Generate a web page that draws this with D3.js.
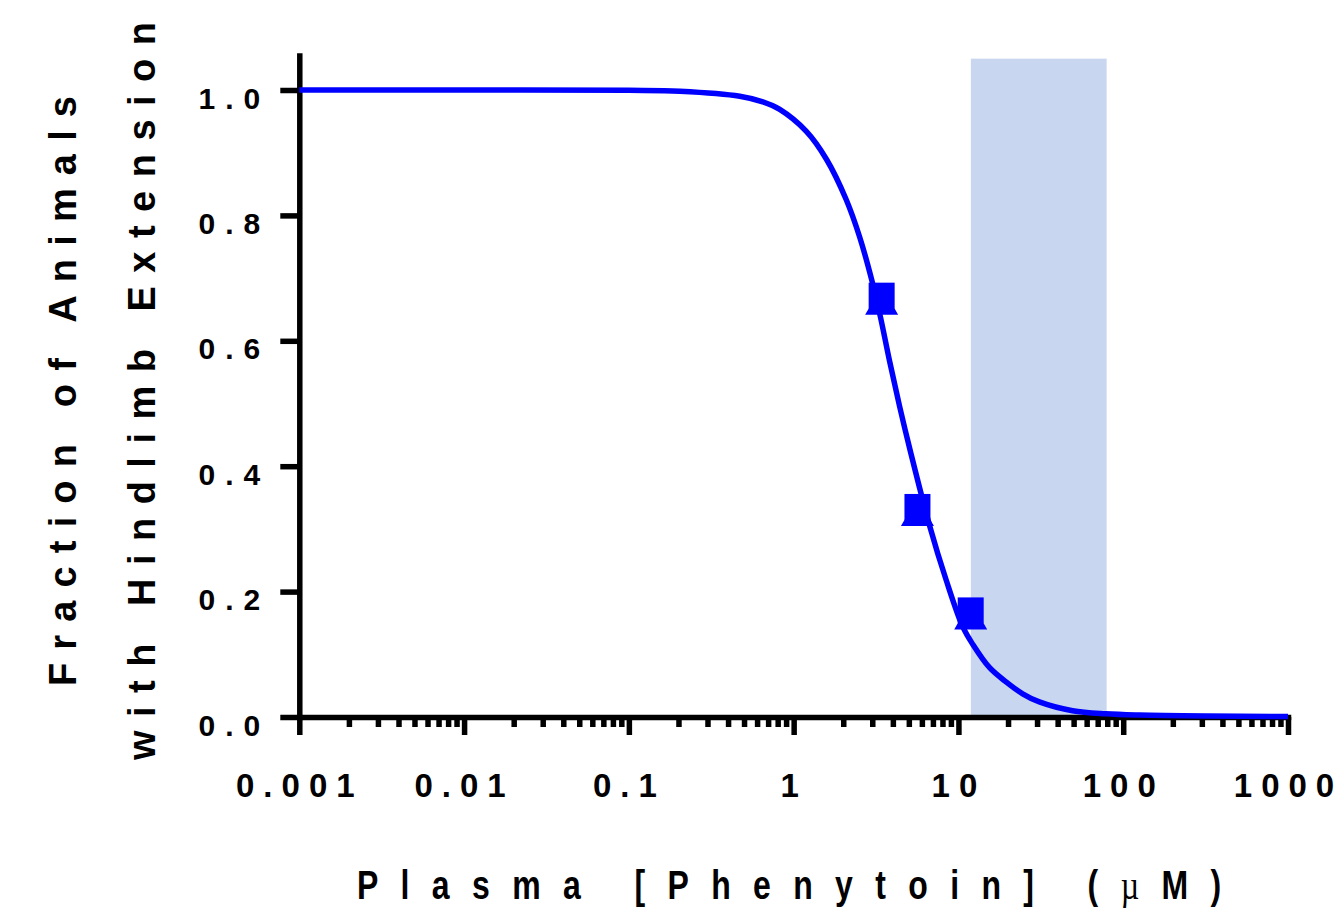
<!DOCTYPE html>
<html>
<head>
<meta charset="utf-8">
<script src="https://cdn.jsdelivr.net/npm/d3@7"></script>
<style>
  body { margin: 0; background: #fff; }
  text { font-family: "Liberation Sans", Arial, sans-serif; font-weight: bold; fill: #000; }
</style>
</head>
<body>
<div id="chart"></div>
<script>
const chartWidth = 1335;
const chartHeight = 909;

// tick values / labels
const xTicks = [0.001, 0.01, 0.1, 1, 10, 100, 1000];
const xTickLabels = ['0.001', '0.01', '0.1', '1', '10', '100', '1000'];
const yTicks = [0, 0.2, 0.4, 0.6, 0.8, 1.0];
const yTickLabels = ['0.0', '0.2', '0.4', '0.6', '0.8', '1.0'];

// fitted curve
const curveX = [0.001, 0.01, 0.1, 0.204, 0.471, 0.65, 0.823, 1.194, 1.578, 2.086, 2.512, 3.012, 3.363,
                3.818, 4.39, 5.118, 6.672, 8.424, 10.62, 12.21, 15.41, 19.45, 24.53, 30.97, 49.28,
                78.6, 125, 317, 1000];
const curveY = [1.0, 1.0, 0.9995, 0.998, 0.990, 0.981, 0.969, 0.934, 0.890, 0.825, 0.766, 0.692, 0.638,
                0.568, 0.496, 0.423, 0.306, 0.2185, 0.144, 0.116, 0.079, 0.056, 0.037, 0.024, 0.010,
                0.005, 0.003, 0.0015, 0.0008];

// measured points (square + triangle at each)
const pointX = [3.42, 5.64, 11.87];
const pointY = [0.672, 0.335, 0.170];

// shaded concentration band
const bandX = [11.9, 79.3];
const bandTop = 1.05;

const xScale = d3.scaleLog()
                  .domain([0.001, 1000])
                  .range([299.3, 1288]);

const yScale = d3.scaleLinear()
                  .domain([0, 1.055])
                  .range([717, 717 - 1.055 * 627]);

let svg = d3.select('#chart')
            .append('svg')
            .attr('width', chartWidth)
            .attr('height', chartHeight);

// band
svg.append('rect')
    .attr('x', xScale(bandX[0]))
    .attr('y', yScale(bandTop))
    .attr('width', xScale(bandX[1]) - xScale(bandX[0]))
    .attr('height', yScale(0) - yScale(bandTop))
    .attr('fill', '#c8d6ef');

// minor x ticks
const minorTicks = xScale.ticks().filter(d => !xTicks.some(t => Math.abs(t - d) / t < 1e-6));

svg.append('g')
    .attr('class', 'x minor')
    .attr('transform', 'translate(0,' + yScale(0) + ')')
    .call(d3.axisBottom(xScale).tickValues(minorTicks).tickSize(10).tickSizeOuter(0).tickFormat(''))
    .call(g => g.select('.domain').remove())
    .call(g => g.selectAll('line').attr('stroke', '#000').attr('stroke-width', 5.5));

// major x axis
svg.append('g')
    .attr('class', 'x axis')
    .attr('transform', 'translate(0,' + yScale(0) + ')')
    .call(d3.axisBottom(xScale).tickValues(xTicks).tickSize(18).tickSizeOuter(0)
            .tickFormat((d, i) => xTickLabels[i]))
    .call(g => g.select('.domain').attr('stroke', '#000').attr('stroke-width', 5.5)
                 .attr('stroke-linecap', 'square'))
    .call(g => g.selectAll('line').attr('stroke', '#000').attr('stroke-width', 5.5))
    .call(g => g.selectAll('text')
                 .attr('y', 80).attr('dy', null)
                 .style('font-size', '33px')
                 .style('letter-spacing', '9px'));

// y axis
svg.append('g')
    .attr('class', 'y axis')
    .attr('transform', 'translate(' + xScale(0.001) + ',0)')
    .call(d3.axisLeft(yScale).tickValues(yTicks).tickSize(19).tickPadding(10).tickSizeOuter(0)
            .tickFormat((d, i) => yTickLabels[i]))
    .call(g => g.select('.domain').attr('stroke', '#000').attr('stroke-width', 5.5)
                 .attr('stroke-linecap', 'square'))
    .call(g => g.selectAll('line').attr('stroke', '#000').attr('stroke-width', 5.5))
    .call(g => g.selectAll('text')
                 .attr('dy', '0.6em')
                 .style('font-size', '30px')
                 .style('letter-spacing', '10px'));

// fitted curve
const curveData = curveX.map((x, i) => ({x: x, y: curveY[i]}));
const line = d3.line()
                .x(d => xScale(d.x))
                .y(d => yScale(d.y))
                .curve(d3.curveCatmullRom.alpha(0.5));

svg.append('path')
    .datum(curveData)
    .attr('fill', 'none')
    .attr('stroke', '#0000ff')
    .attr('stroke-width', 5.5)
    .attr('stroke-linejoin', 'round')
    .attr('d', line);

// points
const points = pointX.map((x, i) => ({x: x, y: pointY[i]}));

svg.selectAll('.sq')
  .data(points)
  .enter().append('path')
    .attr('class', 'sq')
    .attr('transform', d => 'translate(' + xScale(d.x) + ',' + yScale(d.y) + ')')
    .attr('d', d3.symbol().type(d3.symbolSquare).size(26 * 26))
    .attr('fill', '#0000ff');

svg.selectAll('.tri')
  .data(points)
  .enter().append('path')
    .attr('class', 'tri')
    .attr('transform', d => 'translate(' + xScale(d.x) + ',' + (yScale(d.y) + 9.5) + ')')
    .attr('d', d3.symbol().type(d3.symbolTriangle).size(472))
    .attr('fill', '#0000ff');

// axis titles
svg.append('text')
    .attr('transform', 'translate(76,391) rotate(-90)')
    .attr('text-anchor', 'middle')
    .attr('textLength', 590)
    .attr('lengthAdjust', 'spacing')
    .style('font-size', '38px')
    .text('Fraction of Animals');

svg.append('text')
    .attr('transform', 'translate(155,391) rotate(-90)')
    .attr('text-anchor', 'middle')
    .attr('textLength', 738)
    .attr('lengthAdjust', 'spacing')
    .style('font-size', '38px')
    .text('with Hindlimb Extension');

const xTitle = svg.append('text')
    .attr('transform', 'translate(789,899) scale(0.78,1)')
    .attr('text-anchor', 'middle')
    .attr('textLength', 1108)
    .attr('lengthAdjust', 'spacing')
    .style('font-size', '41px');
xTitle.append('tspan').text('Plasma [Phenytoin] (');
xTitle.append('tspan')
    .style('font-family', '"Liberation Serif", serif')
    .style('font-weight', 'normal')
    .text('µ');
xTitle.append('tspan').text('M)');
</script>
</body>
</html>
